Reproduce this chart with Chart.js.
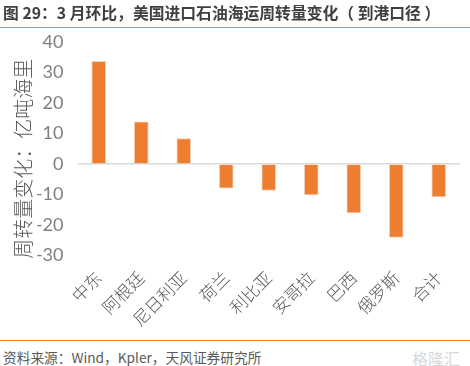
<!DOCTYPE html>
<html>
<head>
<meta charset="utf-8">
<style>
  html, body { margin: 0; padding: 0; background: #fff; }
  #page { position: relative; width: 470px; height: 366px; overflow: hidden; font-family: "Noto Sans CJK SC", sans-serif; }
  #title { position: absolute; left: 3px; top: 1px; font-size: 15.8px; line-height: 24px; font-weight: 700; color: #404040; white-space: nowrap; }
  #rule-top { position: absolute; left: 0; top: 27px; width: 470px; height: 1px; background: #e08a3c; }
  #rule-bottom { position: absolute; left: 0; top: 340px; width: 470px; height: 1px; background: #f58220; }
  #source { position: absolute; left: 3px; top: 347px; font-size: 13.7px; line-height: 20px; color: #595959; white-space: nowrap; }
  #mark { position: absolute; left: 412px; top: 349px; font-size: 16px; line-height: 18px; color: #d8d8d8; white-space: nowrap; }
  canvas { position: absolute; left: 0; top: 0; }
</style>
<script src="https://cdn.jsdelivr.net/npm/chart.js@4/dist/chart.umd.min.js"></script>
</head>
<body>
<div id="page">
  <canvas id="chart" width="470" height="335"></canvas>
  <div id="title">图 29：3 月环比，美国进口石油海运周转量变化（ 到港口径 ）</div>
  <div id="rule-top"></div>
  <div id="rule-bottom"></div>
  <div id="source">资料来源：Wind，Kpler，天风证券研究所</div>
  <div id="mark">格隆汇</div>
</div>
<script>
// Values
const CATEGORIES = ['中东', '阿根廷', '尼日利亚', '荷兰', '利比亚', '安哥拉', '巴西', '俄罗斯', '合计'];
const CHANGE_VALUES = [33.7, 13.8, 8.3, -7.9, -8.7, -10.1, -16, -24.1, -10.8];
const Y_TICKS = [40, 30, 20, 10, 0, -10, -20, -30];

new Chart(document.getElementById('chart').getContext('2d'), {
  type: 'bar',
  data: {
    labels: CATEGORIES,
    datasets: [{
      data: CHANGE_VALUES,
      backgroundColor: '#ed7d31',
      borderColor: '#f8d3b8',
      borderWidth: 1,
      barThickness: 14
    }]
  },
  options: {
    responsive: false,
    animation: false,
    layout: { padding: { top: 42, right: 10, left: 0, bottom: 0 } },
    plugins: { legend: { display: false }, tooltip: { enabled: false } },
    scales: {
      x: {
        grid: { display: false },
        border: { display: false },
        afterFit: (scale) => { scale.height = 79.5; },
        ticks: {
          minRotation: 45,
          maxRotation: 45,
          autoSkip: false,
          padding: 4,
          color: '#595959',
          font: { family: '"Noto Sans CJK SC"', size: 17, weight: 300 }
        }
      },
      y: {
        min: -30,
        max: 40,
        afterFit: (scale) => { scale.width = 77.5; },
        afterBuildTicks: (scale) => { scale.ticks = Y_TICKS.map(v => ({ value: v })); },
        border: { display: false },
        grid: {
          drawTicks: false,
          lineWidth: 1.5,
          color: (c) => c.tick.value === 0 ? '#d9d9d9' : 'transparent'
        },
        title: {
          display: true,
          // trailing full-width space nudges the centred title down the axis
          text: '周转量变化：亿吨海里\u3000',
          color: '#595959',
          padding: { top: 11, bottom: 0 },
          font: { family: '"Noto Sans CJK SC"', size: 20, weight: 300 }
        },
        ticks: {
          padding: 14,
          color: '#7f7f7f',
          font: { family: 'Lato', size: 18 }
        }
      }
    }
  }
});
</script>
</body>
</html>
